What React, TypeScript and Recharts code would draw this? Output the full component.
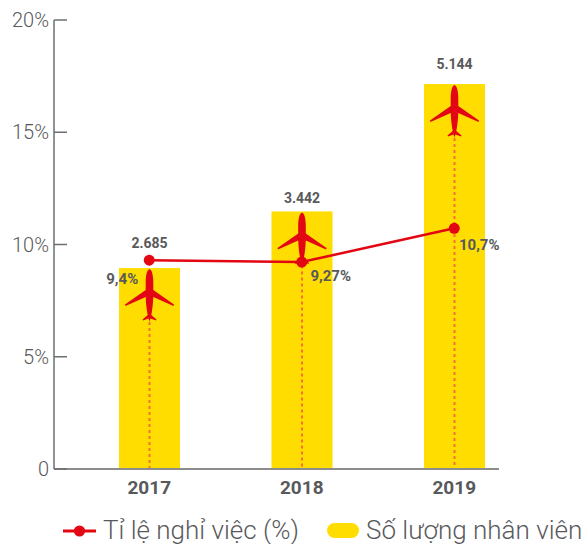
import React from "react";
import { ComposedChart, Bar, Line, XAxis, YAxis, Legend, LabelList } from "recharts";

const years = ["2017", "2018", "2019"];
const staff = [2685, 3442, 5144];
const staffLabels = ["2.685", "3.442", "5.144"];
const rate = [9.3, 9.22, 10.72];
const rateLabels = ["9,4%", "9,27%", "10,7%"];
const yTicks = [0, 5, 10, 15, 20];

const rows = years.map((year, i) => ({
  year,
  staff: staff[i],
  rate: rate[i],
  staffLabel: staffLabels[i],
  rateLabel: rateLabels[i],
}));

const RED = "#e30613";
const YELLOW = "#ffdd00";
const GREY = "#58595b";
const FONT = "Roboto, sans-serif";

const staffLabelDy = [-25, -13, -20];
const rateLabelOffset = [
  [-27, 19],
  [29, 14],
  [25, 17],
];

function PlaneBar(props: any) {
  const { x, y, width, height } = props;
  const cx = x + width / 2;
  const base = y + height;
  const t = y + 1;
  const plane = `M ${cx} ${t}
    C ${cx + 3} ${t + 1} ${cx + 3.8} ${t + 8} ${cx + 3.8} ${t + 14}
    L ${cx + 3.8} ${t + 21}
    L ${cx + 24.5} ${t + 35.5} L ${cx + 24} ${t + 37}
    L ${cx + 3.8} ${t + 28}
    C ${cx + 3.5} ${t + 36} ${cx + 2.5} ${t + 42} ${cx + 1.8} ${t + 46}
    L ${cx + 7} ${t + 50.5} L ${cx + 6.5} ${t + 51.5} L ${cx + 1} ${t + 49.5}
    L ${cx} ${t + 52.5} L ${cx - 1} ${t + 49.5}
    L ${cx - 6.5} ${t + 51.5} L ${cx - 7} ${t + 50.5} L ${cx - 1.8} ${t + 46}
    C ${cx - 2.5} ${t + 42} ${cx - 3.5} ${t + 36} ${cx - 3.8} ${t + 28}
    L ${cx - 24} ${t + 37} L ${cx - 24.5} ${t + 35.5}
    L ${cx - 3.8} ${t + 21} L ${cx - 3.8} ${t + 14}
    C ${cx - 3.8} ${t + 8} ${cx - 3} ${t + 1} ${cx} ${t} Z`;
  return (
    <g>
      <rect x={x} y={y} width={width} height={height} fill={YELLOW} />
      <line x1={cx} x2={cx} y1={t + 53} y2={base} stroke="#f7703a" strokeWidth={2} strokeDasharray="3 3" />
      <path d={plane} fill={RED} />
    </g>
  );
}

function StaffLabel(props: any) {
  const { x, y, width, index, value } = props;
  return (
    <text x={x + width / 2} y={y + staffLabelDy[index]} textAnchor="middle" dominantBaseline="central"
      fontFamily={FONT} fontWeight={700} fontSize={14} fill={GREY}>
      {value}
    </text>
  );
}

function RateLabel(props: any) {
  const { x, y, index, value } = props;
  const [dx, dy] = rateLabelOffset[index];
  return (
    <text x={x + dx} y={y + dy} textAnchor="middle" dominantBaseline="central"
      fontFamily={FONT} fontWeight={700} fontSize={15} fill={GREY}>
      {value}
    </text>
  );
}

function YTick(props: any) {
  const { x, y, payload } = props;
  const v = payload.value;
  return (
    <g>
      <line x1={x} x2={x + 13} y1={y} y2={y} stroke="#6d6e71" strokeWidth={1.5} />
      <text x={x - 5} y={y} textAnchor="end" dominantBaseline="central"
        fontFamily={FONT} fontWeight={300} fontSize={20} fill={GREY}>
        {v === 0 ? "0" : `${v}%`}
      </text>
    </g>
  );
}

function LegendContent() {
  return (
    <svg width={585} height={40} style={{ display: "block", overflow: "visible" }}>
      <line x1={63} x2={96} y1={27} y2={27} stroke={RED} strokeWidth={3} />
      <circle cx={79.5} cy={27} r={5.6} fill={RED} />
      <text x={103} y={35} fontFamily={FONT} fontSize={26} fontWeight={300} fill={GREY}>Tỉ lệ nghỉ việc (%)</text>
      <rect x={327} y={19} width={32} height={15} rx={7.5} fill={YELLOW} />
      <text x={366} y={35} fontFamily={FONT} fontSize={26} fontWeight={300} fill={GREY}>Số lượng nhân viên</text>
    </svg>
  );
}

export default function App() {
  return (
    <div style={{ position: "absolute", left: 0, top: 0, width: 585, height: 544 }}>
      <ComposedChart width={585} height={544} data={rows} margin={{ top: 20, right: 86, bottom: 0, left: 0 }}>
        <XAxis dataKey="year" height={35} padding={{ left: 19, right: -31.5 }} tickLine={false}
          axisLine={{ stroke: "#8c8c8c", strokeWidth: 2 }}
          tick={{ fontFamily: FONT, fontWeight: 700, fontSize: 19, fill: GREY }} tickMargin={6} />
        <YAxis yAxisId="rate" width={54} domain={[0, 20]} ticks={yTicks} interval={0}
          axisLine={{ stroke: "#6d6e71", strokeWidth: 1.5 }}
          tickLine={false} tickSize={0} tickMargin={0}
          tick={<YTick />} />
        <YAxis yAxisId="staff" hide orientation="right" domain={[0, 6000]} />
        <Bar yAxisId="staff" dataKey="staff" barSize={61} shape={<PlaneBar />} isAnimationActive={false}>
          <LabelList dataKey="staffLabel" content={<StaffLabel />} />
        </Bar>
        <Line yAxisId="rate" dataKey="rate" stroke={RED} strokeWidth={2.5} type="linear"
          dot={{ r: 5.5, fill: RED, stroke: RED, strokeWidth: 0 }} isAnimationActive={false}>
          <LabelList dataKey="rateLabel" content={<RateLabel />} />
        </Line>
        <Legend content={<LegendContent />} wrapperStyle={{ left: 0, bottom: 0, width: 585, height: 40 }} />
      </ComposedChart>
    </div>
  );
}
